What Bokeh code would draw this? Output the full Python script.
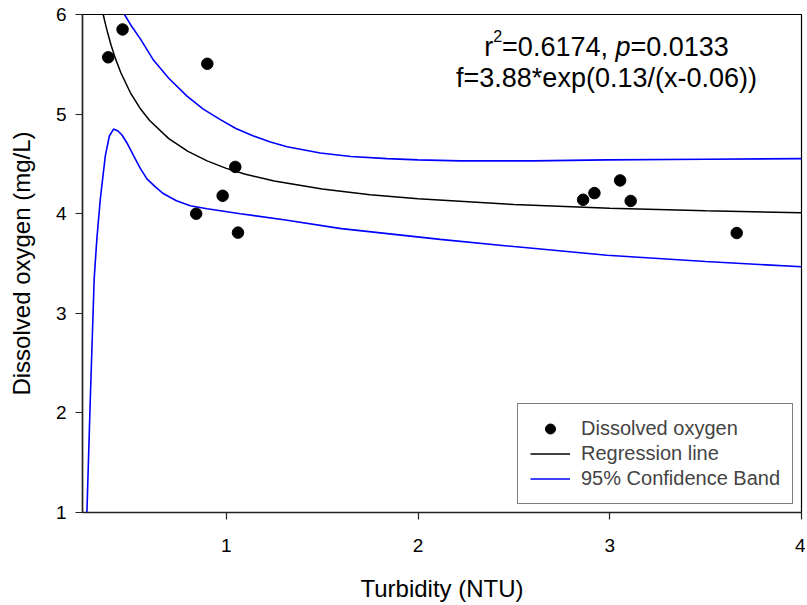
from bokeh.plotting import figure
from bokeh.models import Legend, LegendItem, Label, FixedTicker, Range1d
from bokeh.embed import file_html
from bokeh.resources import INLINE

# ---- data ----
turbidity = [0.384, 0.459, 0.901, 1.047, 0.981, 0.843, 1.061, 2.861, 2.920, 3.054, 3.109, 3.662]
oxygen = [5.57, 5.85, 5.505, 4.47, 4.18, 4.00, 3.81, 4.14, 4.207, 4.334, 4.128, 3.806]

reg_x = [0.358, 0.37, 0.38, 0.40, 0.42, 0.45, 0.50, 0.55, 0.60, 0.70, 0.80, 0.90,
         1.00, 1.10, 1.25, 1.50, 1.75, 2.00, 2.50, 3.00, 3.50, 4.00]
reg_y = [6.00, 5.901, 5.825, 5.687, 5.567, 5.415, 5.214, 5.059, 4.936, 4.754, 4.625, 4.530,
         4.455, 4.397, 4.328, 4.247, 4.190, 4.149, 4.092, 4.055, 4.029, 4.010]

upper_x = [0.469, 0.50, 0.55, 0.621, 0.70, 0.795, 0.88, 0.969, 1.05, 1.142, 1.23, 1.317,
           1.49, 1.65, 1.838, 2.00, 2.221, 2.60, 2.986, 3.50, 4.00]
upper_y = [6.00, 5.90, 5.76, 5.54, 5.36, 5.18, 5.05, 4.944, 4.855, 4.78, 4.72, 4.672,
           4.61, 4.575, 4.553, 4.54, 4.53, 4.53, 4.54, 4.546, 4.553]

lower_x = [0.273, 0.29, 0.311, 0.325, 0.343, 0.369, 0.39, 0.412, 0.435, 0.456, 0.482, 0.517,
           0.55, 0.586, 0.63, 0.673, 0.74, 0.812, 0.90, 1.073, 1.30, 1.60, 2.116, 2.50,
           2.986, 3.50, 4.00]
lower_y = [1.00, 2.10, 3.35, 3.75, 4.15, 4.58, 4.78, 4.85, 4.83, 4.79, 4.71, 4.58,
           4.46, 4.35, 4.27, 4.20, 4.13, 4.08, 4.05, 4.00, 3.94, 3.85, 3.742, 3.67,
           3.583, 3.52, 3.467]

x_ticks = [1, 2, 3, 4]
y_ticks = [1, 2, 3, 4, 5, 6]

FONT = "Liberation Sans"

p = figure(width=805, height=604, output_backend="svg", toolbar_location=None,
           x_range=Range1d(0.25, 4.0), y_range=Range1d(1, 6),
           min_border_left=82, min_border_top=14, min_border_right=4, min_border_bottom=88)
p.xgrid.visible = False
p.ygrid.visible = False
p.outline_line_color = "black"
p.outline_line_width = 1.2
p.background_fill_color = "white"
p.border_fill_color = "white"

for ax in (p.xaxis[0], p.yaxis[0]):
    ax.axis_line_color = "#222222"
    ax.axis_line_width = 1.5
    ax.major_tick_line_color = "#222222"
    ax.major_tick_line_width = 1.2
    ax.major_tick_out = 7
    ax.major_tick_in = 0
    ax.minor_tick_line_color = None
    ax.major_label_text_font = FONT
    ax.major_label_text_font_size = "19px"
    ax.major_label_text_color = "black"
    ax.axis_label_text_font = FONT
    ax.axis_label_text_font_size = "24px"
    ax.axis_label_text_font_style = "normal"
    ax.axis_label_text_color = "black"

p.xaxis.ticker = FixedTicker(ticks=x_ticks)
p.yaxis.ticker = FixedTicker(ticks=y_ticks)
p.xaxis.axis_label = "Turbidity (NTU)"
p.yaxis.axis_label = "Dissolved oxygen (mg/L)"
p.xaxis.major_label_standoff = 19
p.yaxis.major_label_standoff = 9
p.xaxis.axis_label_standoff = 20
p.yaxis.axis_label_standoff = 18

r_up = p.line(upper_x, upper_y, line_color="#0000ff", line_width=1.6)
r_lo = p.line(lower_x, lower_y, line_color="#0000ff", line_width=1.6)
r_reg = p.line(reg_x, reg_y, line_color="black", line_width=1.5)
r_pts = p.scatter(turbidity, oxygen, size=11.5, fill_color="black", line_color="black")

legend = Legend(items=[
    LegendItem(label="Dissolved oxygen", renderers=[r_pts]),
    LegendItem(label="Regression line", renderers=[r_reg]),
    LegendItem(label="95% Confidence Band", renderers=[r_up]),
], location=(435, 8))
legend.label_text_font = FONT
legend.label_text_font_size = "20px"
legend.label_height = 25
legend.glyph_height = 25
legend.glyph_width = 40
legend.label_standoff = 11
legend.spacing = 0
legend.padding = 12
legend.margin = 0
legend.border_line_color = "black"
legend.border_line_width = 1.2
legend.background_fill_alpha = 1
p.add_layout(legend)

# ---- annotation text (centred block) ----
W = {'r': .333, '=': .584, '0': .556, '1': .556, '2': .556, '3': .556, '4': .556, '6': .556,
     '7': .556, '.': .278, ',': .278, ' ': .278, 'p': .556}

def tw(s, fs):
    return sum(W[c] for c in s) * fs

FS = 27
SUP = 16

def to_data(px, py):
    return 0.25 + (px - 82) / 719 * 3.75, 6 - (py - 14) / 502 * 5

center_px = 606
base1 = 47
base2 = 78
pieces = [("r", FS, "normal", 0), ("2", SUP, "normal", 11), ("=0.6174, ", FS, "normal", 0),
          ("p", FS, "italic", 0), ("=0.0133", FS, "normal", 0)]
total = sum(tw(s, f) for s, f, _, _ in pieces)
cx = center_px - total / 2
for s, f, st, rise in pieces:
    x, y = to_data(cx, base1 - rise)
    p.add_layout(Label(x=x, y=y, text=s, text_font=FONT, text_font_size=f"{f}px",
                       text_font_style=st, text_align="left", text_baseline="alphabetic",
                       text_color="black"))
    cx += tw(s, f)

x2, y2 = to_data(center_px, base2)
p.add_layout(Label(x=x2, y=y2, text="f=3.88*exp(0.13/(x-0.06))", text_font=FONT,
                   text_font_size=f"{FS}px", text_align="center", text_baseline="alphabetic",
                   text_color="black"))

open("out.html", "w").write(file_html(p, INLINE))
